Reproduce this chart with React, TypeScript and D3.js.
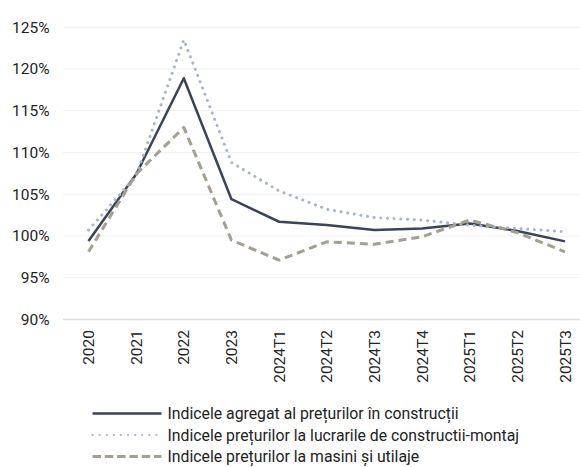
import React from "react";
import * as d3 from "d3";

const categories = ["2020", "2021", "2022", "2023", "2024T1", "2024T2", "2024T3", "2024T4", "2025T1", "2025T2", "2025T3"];
const aggregat = [99.4, 107.4, 118.9, 104.4, 101.7, 101.3, 100.7, 100.9, 101.5, 100.6, 99.35];
const lucrari = [100.7, 107.2, 123.5, 108.8, 105.4, 103.2, 102.2, 101.9, 101.3, 100.9, 100.5];
const masini = [98.1, 107.4, 113.0, 99.5, 97.1, 99.3, 99.0, 99.9, 101.9, 100.4, 98.1];
const yTicks = [90, 95, 100, 105, 110, 115, 120, 125];
const seriesNames = [
  "Indicele agregat al prețurilor în construcții",
  "Indicele prețurilor la lucrarile de constructii-montaj",
  "Indicele prețurilor la masini și utilaje",
];

const FONT = "Roboto, 'Noto Sans', sans-serif";

export default function App() {
  const W = 580, H = 467;
  const x = d3.scalePoint<string>().domain(categories).range([88.5, 565]);
  const y = d3.scaleLinear().domain([90, 125]).range([319.4, 27.3]);
  const line = d3
    .line<number>()
    .x((_, i) => x(categories[i]) as number)
    .y((d) => y(d));

  const styles = [
    { data: aggregat, stroke: "#3b4357", width: 2.5, dash: undefined as string | undefined, cap: "butt" as const },
    { data: lucrari, stroke: "#a9b5c9", width: 3, dash: "0.1 6.6", cap: "round" as const },
    { data: masini, stroke: "#a39f91", width: 3, dash: "8 5", cap: "butt" as const },
  ];
  const legendStyles = [
    { stroke: "#3b4357", width: 2.5, dash: undefined as string | undefined, cap: "butt" as const },
    { stroke: "#a9b5c9", width: 2.2, dash: "0.1 7", cap: "round" as const },
    { stroke: "#a39f91", width: 3, dash: "8.5 3.8", cap: "butt" as const },
  ];
  const legendY = [413.5, 435, 456.5];

  return (
    <svg
      width={W}
      height={H}
      style={{ position: "absolute", left: 0, top: 0, background: "#fff" }}
      fontFamily={FONT}
    >
      {yTicks.map((t) => (
        <g key={t}>
          <line
            x1={63}
            x2={W}
            y1={y(t)}
            y2={y(t)}
            stroke={t === 90 ? "#dcdfe4" : "#f0f0f0"}
            strokeWidth={t === 90 ? 1.5 : 1}
          />
          <text x={49.5} y={y(t)} dy="0.35em" textAnchor="end" fontSize={15.5} fill="#222">
            {t}%
          </text>
        </g>
      ))}
      {categories.map((c) => (
        <text
          key={c}
          transform={`translate(${(x(c) as number) + 5.5},330) rotate(-90)`}
          textAnchor="end"
          fontSize={15.5}
          fill="#222"
        >
          {c}
        </text>
      ))}
      {styles.map((s, i) => (
        <path
          key={i}
          d={line(s.data) || ""}
          fill="none"
          stroke={s.stroke}
          strokeWidth={s.width}
          strokeDasharray={s.dash}
          strokeLinecap={s.cap}
          strokeLinejoin="round"
        />
      ))}
      {seriesNames.map((n, i) => (
        <g key={n}>
          <line
            x1={92.5}
            x2={161.5}
            y1={legendY[i]}
            y2={legendY[i]}
            stroke={legendStyles[i].stroke}
            strokeWidth={legendStyles[i].width}
            strokeDasharray={legendStyles[i].dash}
            strokeLinecap={legendStyles[i].cap}
          />
          <text x={167.5} y={legendY[i]} dy="0.35em" fontSize={15.8} fill="#222">
            {n}
          </text>
        </g>
      ))}
    </svg>
  );
}
